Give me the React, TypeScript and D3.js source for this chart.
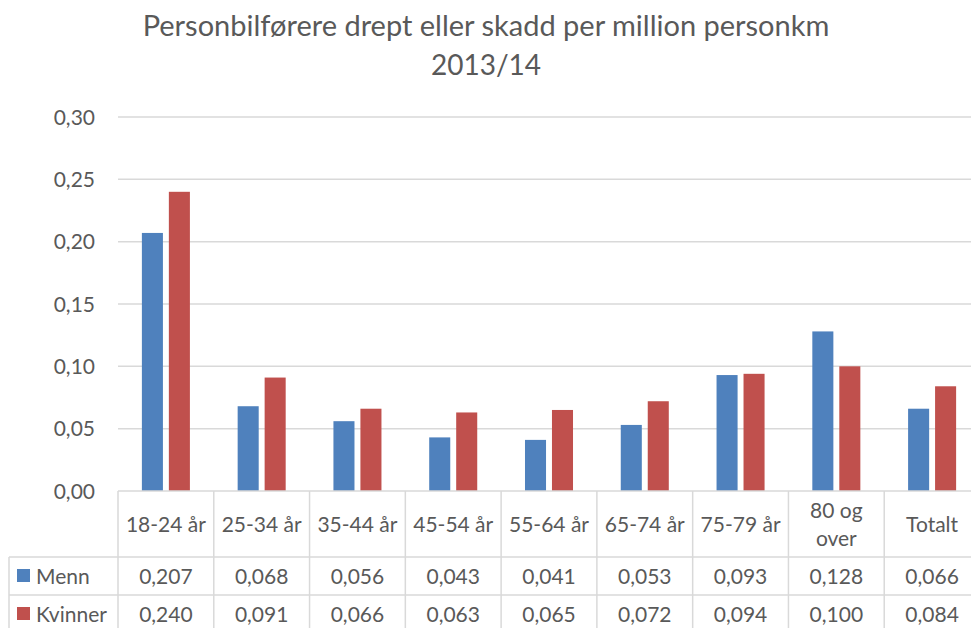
import React from "react";
import * as d3 from "d3";

const categories = ["18-24 år", "25-34 år", "35-44 år", "45-54 år", "55-64 år", "65-74 år", "75-79 år", "80 og\nover", "Totalt"];
const menn = [0.207, 0.068, 0.056, 0.043, 0.041, 0.053, 0.093, 0.128, 0.066];
const kvinner = [0.24, 0.091, 0.066, 0.063, 0.065, 0.072, 0.094, 0.1, 0.084];
const yTicks = [0, 0.05, 0.1, 0.15, 0.2, 0.25, 0.3];
const seriesNames = ["Menn", "Kvinner"];
const colors = ["#4f81bd", "#c0504d"];

const W = 971;
const H = 628;
const left = 118;
const right = 980;
const top = 117;
const bottom = 491;
const headerBottom = 557;
const row1Bottom = 595;
const row2Bottom = 633;
const tableLeft = 9;
const font = "Lato, 'Open Sans', sans-serif";
const textColor = "#595959";
const grid = "#d9d9d9";

const fmt = (v: number, d: number) => v.toFixed(d).replace(".", ",");

export default function App() {
  const x = d3.scaleBand<string>().domain(categories).range([left, right]);
  const xi = d3.scaleBand<string>().domain(seriesNames).range([0, x.bandwidth()]).paddingInner(0.22).paddingOuter(0.885);
  const y = d3.scaleLinear().domain([0, 0.3]).range([bottom, top]);
  const data = [menn, kvinner];

  return (
    <svg width={W} height={H} style={{ position: "absolute", left: 0, top: 0, background: "#fff" }} fontFamily={font}>
      <text x={486} y={36} textAnchor="middle" fontSize={29} fill={textColor}>
        Personbilførere drept eller skadd per million personkm
      </text>
      <text x={486} y={75} textAnchor="middle" fontSize={28} fill={textColor}>
        2013/14
      </text>

      {yTicks.map((t) => (
        <g key={t}>
          {t > 0 && <line x1={left} x2={right} y1={y(t)} y2={y(t)} stroke={grid} strokeWidth={1.5} />}
          <text x={95} y={y(t)} dy="0.36em" textAnchor="end" fontSize={21} fill={textColor}>
            {fmt(t, 2)}
          </text>
        </g>
      ))}

      {categories.map((c, i) =>
        data.map((s, j) => (
          <rect
            key={c + j}
            x={(x(c) ?? 0) + (xi(seriesNames[j]) ?? 0)}
            y={y(s[i])}
            width={xi.bandwidth()}
            height={bottom - y(s[i])}
            fill={colors[j]}
          />
        ))
      )}

      {/* data table */}
      <line x1={left} x2={right} y1={bottom} y2={bottom} stroke={grid} strokeWidth={1.5} />
      <line x1={tableLeft} x2={right} y1={headerBottom} y2={headerBottom} stroke={grid} strokeWidth={1.5} />
      <line x1={tableLeft} x2={right} y1={row1Bottom} y2={row1Bottom} stroke={grid} strokeWidth={1.5} />
      <line x1={tableLeft} x2={tableLeft} y1={headerBottom} y2={row2Bottom} stroke={grid} strokeWidth={1.5} />
      {categories.map((c) => (
        <line key={c} x1={x(c)} x2={x(c)} y1={bottom} y2={row2Bottom} stroke={grid} strokeWidth={1.5} />
      ))}

      {categories.map((c) => {
        const cx = (x(c) ?? 0) + x.bandwidth() / 2;
        const lines = c.split("\n");
        const cy = (bottom + headerBottom) / 2;
        return (
          <text key={c} x={cx} textAnchor="middle" fontSize={21} fill={textColor}>
            {lines.map((l, k) => (
              <tspan key={k} x={cx} y={cy + (k - (lines.length - 1) / 2) * 28} dy="0.36em">
                {l}
              </tspan>
            ))}
          </text>
        );
      })}

      {data.map((s, j) => {
        const rowTop = j === 0 ? headerBottom : row1Bottom;
        const rowBot = j === 0 ? row1Bottom : row2Bottom;
        const cy = (rowTop + rowBot) / 2;
        return (
          <g key={j}>
            <rect x={17} y={cy - 7} width={13} height={13} fill={colors[j]} />
            <text x={36} y={cy} dy="0.36em" fontSize={21} fill={textColor}>
              {seriesNames[j]}
            </text>
            {s.map((v, i) => (
              <text
                key={i}
                x={(x(categories[i]) ?? 0) + x.bandwidth() / 2}
                y={cy}
                dy="0.36em"
                textAnchor="middle"
                fontSize={21}
                fill={textColor}
              >
                {fmt(v, 3)}
              </text>
            ))}
          </g>
        );
      })}
    </svg>
  );
}
